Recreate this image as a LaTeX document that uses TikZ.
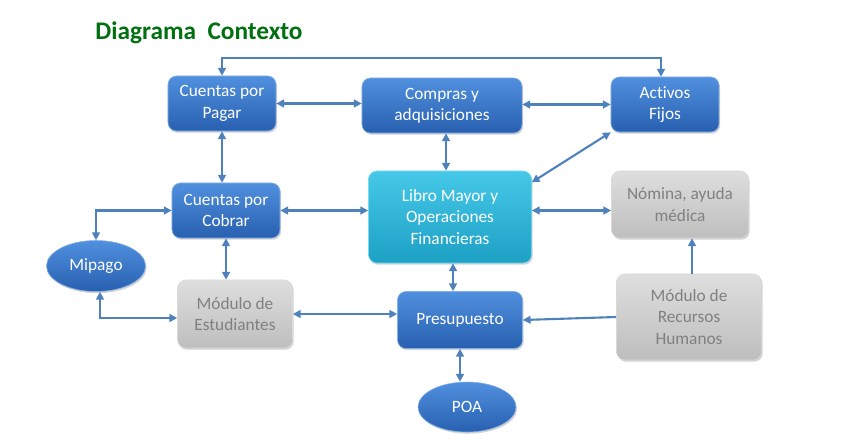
\documentclass[tikz,border=0pt]{standalone}
\usepackage{fontspec}
\setmainfont{Carlito}[Ligatures={NoCommon}]
\usepackage{xcolor}
\usetikzlibrary{arrows.meta, positioning, shapes.geometric, shadows}

\definecolor{linkblue}{RGB}{79,129,189}
\definecolor{boxtop}{RGB}{80,144,222}
\definecolor{boxbot}{RGB}{40,96,176}
\definecolor{cyantop}{RGB}{70,200,232}
\definecolor{cyanbot}{RGB}{28,160,196}
\definecolor{graytop}{RGB}{222,222,222}
\definecolor{graybot}{RGB}{190,190,190}
\definecolor{titlegreen}{RGB}{0,112,16}

\begin{document}
\begin{tikzpicture}[
x=0.025cm, y=-0.025cm,
every node/.style = {font=\fontsize{12.3}{15.2}\selectfont, align=center},
box/.style = {rectangle, rounded corners=6pt, draw=boxtop!70!white,
              top color=boxtop, bottom color=boxbot, text=white,
              minimum width=2.7cm, minimum height=1.375cm,
              drop shadow={shadow xshift=0.8pt, shadow yshift=-1.2pt, opacity=0.35}},
modbox/.style = {box, draw=white!85!black, top color=graytop,
                 bottom color=graybot, text=black!50},
ledger/.style = {box, draw=cyantop!70!white, top color=cyantop,
                 bottom color=cyanbot},
oval/.style = {ellipse, inner sep=0pt, draw=boxtop!70!white,
               top color=boxtop, bottom color=boxbot, text=white,
               minimum width=2.475cm, minimum height=1.275cm,
               drop shadow={shadow xshift=0.8pt, shadow yshift=-1.2pt, opacity=0.35}},
link/.style = {draw=linkblue, line width=1.5pt,
               {Triangle[length=5.5pt, width=5.5pt]}-{Triangle[length=5.5pt, width=5.5pt]}},
onelink/.style = {draw=linkblue, line width=1.5pt, -{Triangle[length=5.5pt, width=5.5pt]}},
                        ]
\useasboundingbox (0,0) rectangle (845,447);

\node (title) at (199,33) [font=\fontsize{18}{20}\selectfont\bfseries,
                           text=titlegreen] {Diagrama\ \ Contexto};

\node (cxp)  [box]    at (222,103.5) {Cuentas por\\Pagar};
\node (comp) [box, minimum width=4cm]    at (442,105.5) {Compras y\\adquisiciones};
\node (act)  [box]    at (665,104.5) {Activos\\Fijos};
\node (cxc)  [box]    at (226,210.5) {Cuentas por\\Cobrar};
\node (lib)  [ledger, minimum width=4.075cm, minimum height=2.3cm] at (450,217)
             {Libro Mayor y\\Operaciones\\Financieras};
\node (nom)  [modbox, minimum width=3.425cm, minimum height=1.675cm] at (680,204.5)
             {Nómina, ayuda\\médica};
\node (mip)  [oval]   at (96,266) {Mipago};
\node (est)  [modbox, minimum width=2.875cm, minimum height=1.7cm] at (235,314)
             {Módulo de\\Estudiantes};
\node (pre)  [box, minimum width=3.125cm, minimum height=1.425cm] at (460,320)
             {Presupuesto};
\node (rh)   [modbox, minimum width=3.625cm, minimum height=2.15cm] at (689,317)
             {Módulo de\\Recursos\\Humanos};
\node (poa)  [oval, minimum width=2.45cm, minimum height=1.25cm] at (467,407) {POA};

\draw[link] (cxp.north) -- ++(0,-18) -| ([xshift=-0.1cm]act.north);
\draw[link] (cxp.east) -- (cxp.east -| comp.west);
\draw[link] (act.west) -- (act.west -| comp.east);
\draw[link] (cxp.south) -- (cxp.south |- cxc.north);
\draw[link] ([xshift=0.1cm]comp.south) -- ([xshift=0.1cm]comp.south |- lib.north);
\draw[link] (act.south west) -- (lib.23);
\draw[link] (cxc.east) -- (cxc.east -| lib.west);
\draw[link] (cxc.east -| lib.east) -- (cxc.east -| nom.west);
\draw[link] (cxc.west) -| (mip.north);
\draw[link] (cxc.south) -- (cxc.south |- est.north);
\draw[link] ([xshift=0.1cm]mip.south) |- ([yshift=-0.1cm]est.west);
\draw[link] (est.east) -- (est.east -| pre.west);
\draw[link] ([xshift=0.075cm]lib.south) -- ([xshift=0.075cm]lib.south |- pre.north);
\draw[onelink] (rh.west) -- (pre.east);
\draw[onelink] ([xshift=0.075cm]rh.north) -- ([xshift=0.075cm]rh.north |- nom.south);
\draw[link] (pre.south) -- (pre.south |- poa.north);
   \end{tikzpicture}
\end{document}
